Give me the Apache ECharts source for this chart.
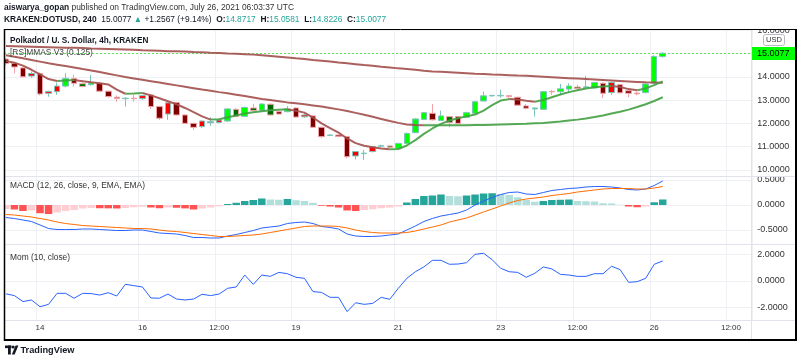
<!DOCTYPE html>
<html>
<head>
<meta charset="utf-8">
<title>DOTUSD 4h</title>
<script src="https://cdn.jsdelivr.net/npm/echarts@6/dist/echarts.min.js"></script>
<style>
html,body{margin:0;padding:0;background:#ffffff;}
#chart{width:800px;height:362px;}
</style>
</head>
<body>
<div id="chart"></div>
<script>
// ---------------- data ----------------
const barStartUTC = Date.UTC(2021, 6, 13, 8, 0);   // first visible 4h bar
const barHours = 4;
const futureBars = 10;                              // empty slots right of last bar
const tickIndex = [4, 16, 25, 34, 46, 58, 67, 76, 85];
const tickText  = ['14', '16', '12:00', '19', '21', '23', '12:00', '26', '12:00'];

const opens = [14.76,14.57,14.38,14.14,14.14,13.37,13.60,13.60,13.93,13.58,
 13.66,13.72,13.38,13.12,13.06,13.08,13.19,13.22,12.72,12.88,
 12.90,12.36,12.00,12.10,12.07,12.14,12.10,12.29,12.30,12.55,
 12.56,12.36,12.50,12.50,12.66,12.36,12.32,11.83,11.48,11.50,
 11.43,10.79,10.70,11.00,11.02,10.97,10.93,11.14,11.60,12.17,
 12.43,12.12,12.03,12.29,12.26,12.43,12.96,13.20,13.18,13.19,
 13.12,12.75,12.62,12.60,13.37,13.36,13.47,13.50,13.54,13.52,
 13.72,13.75,13.66,13.40,13.30,13.32,13.72,14.8717];
const closes = [14.57,14.42,14.00,14.03,13.26,13.29,13.36,13.93,13.72,13.70,
 13.74,13.38,13.15,13.07,13.08,13.06,13.07,12.72,12.22,12.40,
 12.36,12.00,11.83,11.86,12.03,12.04,12.62,12.60,12.68,12.66,
 12.83,12.82,12.40,12.62,12.27,12.28,11.83,11.43,11.50,11.44,
 10.57,10.60,10.72,10.79,11.04,11.03,11.14,11.57,12.19,12.46,
 12.15,12.32,12.29,12.00,12.46,12.93,13.18,13.18,13.20,13.15,
 12.78,12.65,12.66,13.36,13.35,13.48,13.60,13.56,13.57,13.75,
 13.29,13.32,13.31,13.29,13.27,13.69,14.87,15.0077];
const lows = [14.50,14.15,13.97,13.96,13.20,13.14,13.22,13.55,13.58,13.55,
 13.62,13.34,13.10,12.93,12.72,12.93,13.00,12.62,12.15,12.15,
 12.33,11.98,11.72,11.80,11.89,12.00,12.06,12.27,12.28,12.52,
 12.54,12.34,12.38,12.48,12.24,12.24,11.80,11.38,11.45,11.40,
 10.50,10.45,10.43,10.75,10.98,10.95,10.90,11.12,11.58,12.14,
 12.12,12.10,11.83,11.97,12.24,12.40,12.94,13.15,13.10,13.05,
 12.75,12.60,12.29,12.58,13.22,13.22,13.30,13.40,13.50,13.50,
 13.08,13.22,13.28,13.12,13.20,13.28,13.70,14.8226];
const highs = [14.82,14.60,14.42,14.22,14.18,13.40,13.75,14.15,14.08,13.74,
 14.08,13.75,13.40,13.20,13.12,13.22,13.22,13.25,12.75,12.90,
 12.92,12.38,12.02,12.12,12.26,12.18,12.65,12.66,12.72,12.84,
 12.86,12.86,12.54,12.74,12.68,12.40,12.34,11.86,11.52,11.52,
 11.46,10.80,10.86,11.02,11.08,11.06,11.16,11.60,12.22,12.49,
 12.83,12.55,12.31,12.31,12.50,12.96,13.36,13.22,13.44,13.20,
 13.14,12.83,12.68,13.38,13.44,13.69,13.72,13.65,14.03,13.78,
 13.75,13.78,13.69,13.42,13.36,13.72,14.92,15.0581];

// [RS]MMAS V3 moving averages (slow, medium, fast)
const maSlow = [15.32,15.31,15.30,15.29,15.28,15.27,15.26,15.25,15.24,15.23,
 15.21,15.20,15.19,15.18,15.17,15.16,15.14,15.13,15.12,15.10,
 15.09,15.08,15.06,15.05,15.03,15.02,15.00,14.99,14.97,14.95,
 14.92,14.89,14.86,14.83,14.79,14.76,14.72,14.69,14.65,14.61,
 14.58,14.54,14.50,14.47,14.43,14.40,14.36,14.33,14.30,14.26,
 14.23,14.21,14.19,14.17,14.15,14.13,14.12,14.10,14.09,14.07,
 14.05,14.04,14.02,14.00,13.98,13.96,13.94,13.92,13.90,13.88,
 13.86,13.84,13.82,13.80,13.78,13.76,13.75,13.74];
const maMid = [14.92,14.86,14.79,14.72,14.65,14.58,14.52,14.46,14.40,14.33,
 14.27,14.20,14.13,14.06,13.99,13.93,13.87,13.81,13.75,13.69,
 13.63,13.57,13.51,13.45,13.40,13.34,13.29,13.23,13.17,13.11,
 13.05,13.00,12.95,12.90,12.86,12.82,12.77,12.72,12.66,12.60,
 12.53,12.45,12.37,12.28,12.19,12.10,12.02,11.95,11.93,11.92,
 11.92,11.92,11.92,11.92,11.92,11.93,11.93,11.94,11.95,11.96,
 11.97,11.98,12.00,12.02,12.05,12.08,12.12,12.16,12.21,12.27,
 12.34,12.42,12.50,12.59,12.70,12.82,12.96,13.12];
const maFast = [14.68,14.60,14.48,14.30,14.10,13.90,13.82,13.84,13.86,13.81,
 13.76,13.72,13.67,13.45,13.27,13.28,13.30,13.20,13.08,12.95,
 12.82,12.66,12.48,12.30,12.16,12.18,12.26,12.34,12.42,12.48,
 12.52,12.56,12.58,12.60,12.54,12.46,12.25,12.00,11.80,11.60,
 11.35,11.15,11.04,10.97,10.92,10.89,10.90,11.05,11.28,11.55,
 11.78,11.98,12.12,12.22,12.30,12.38,12.55,12.78,12.98,13.04,
 13.02,12.97,12.93,13.00,13.12,13.24,13.34,13.42,13.50,13.55,
 13.58,13.60,13.56,13.47,13.42,13.50,13.64,13.80];

// MACD (12, 26, close, 9)
const macdHist = [-0.08,-0.09,-0.12,-0.11,-0.165,-0.18,-0.15,-0.12,-0.10,-0.07,
 -0.06,-0.065,-0.067,-0.07,-0.06,-0.045,-0.035,-0.05,-0.065,-0.05,
 -0.055,-0.068,-0.09,-0.07,-0.05,-0.025,0.02,0.045,0.08,0.10,
 0.13,0.11,0.105,0.12,0.095,0.08,0.045,-0.015,-0.03,-0.05,
 -0.11,-0.12,-0.10,-0.085,-0.065,-0.05,-0.03,0.05,0.12,0.18,
 0.19,0.21,0.18,0.175,0.19,0.21,0.23,0.235,0.22,0.20,
 0.155,0.10,0.065,0.08,0.10,0.105,0.11,0.08,0.075,0.07,
 0.035,0.03,0.005,-0.03,-0.045,-0.03,0.055,0.11];
const macdLine = [-0.25,-0.27,-0.30,-0.33,-0.40,-0.47,-0.49,-0.49,-0.49,-0.48,
 -0.48,-0.49,-0.50,-0.51,-0.51,-0.50,-0.50,-0.53,-0.56,-0.57,
 -0.58,-0.61,-0.65,-0.65,-0.66,-0.66,-0.62,-0.59,-0.55,-0.51,
 -0.46,-0.44,-0.42,-0.37,-0.35,-0.34,-0.37,-0.43,-0.45,-0.48,
 -0.58,-0.62,-0.63,-0.63,-0.62,-0.60,-0.58,-0.50,-0.42,-0.33,
 -0.27,-0.22,-0.19,-0.16,-0.10,0.00,0.08,0.15,0.21,0.25,
 0.26,0.22,0.21,0.25,0.29,0.31,0.33,0.34,0.36,0.37,
 0.37,0.36,0.34,0.31,0.30,0.32,0.39,0.48];
const signalLine = [-0.19,-0.20,-0.22,-0.24,-0.27,-0.30,-0.34,-0.37,-0.39,-0.41,
 -0.42,-0.43,-0.44,-0.45,-0.46,-0.47,-0.47,-0.48,-0.50,-0.52,
 -0.53,-0.55,-0.57,-0.59,-0.61,-0.63,-0.63,-0.62,-0.61,-0.60,
 -0.58,-0.55,-0.52,-0.49,-0.46,-0.43,-0.42,-0.42,-0.42,-0.43,
 -0.46,-0.50,-0.53,-0.55,-0.56,-0.56,-0.56,-0.55,-0.52,-0.48,
 -0.44,-0.40,-0.34,-0.30,-0.26,-0.20,-0.14,-0.08,-0.02,0.04,
 0.09,0.12,0.14,0.16,0.19,0.21,0.23,0.26,0.28,0.30,
 0.32,0.33,0.33,0.33,0.32,0.32,0.34,0.37];

// Mom (10, close)
const momentum = [-0.97,-1.10,-1.55,-1.43,-1.94,-1.76,-0.93,-0.93,-1.30,-0.93,
 -0.95,-1.06,-0.88,-1.13,-0.25,-0.35,-0.45,-1.28,-1.30,-0.98,
 -1.36,-1.43,-1.36,-1.00,-1.10,-0.98,-0.55,-0.45,0.45,-0.25,
 0.45,0.35,0.65,0.55,0.28,0.20,-0.80,-0.86,-1.23,-1.23,
 -2.31,-1.64,-1.76,-1.69,-1.23,-1.38,-0.55,0.20,0.70,1.06,
 1.56,1.56,1.26,1.28,1.38,2.01,2.09,1.61,0.96,0.70,
 0.65,0.28,0.58,1.06,0.91,0.50,0.45,0.35,0.35,0.55,
 0.55,1.11,0.86,-0.10,-0.05,0.20,1.26,1.51];

const lastPrice = 15.0077;

// ---------------- chart ----------------
const FONT = '"Liberation Sans", Arial, sans-serif';
const COL = {
  upBright: '#00ff00', upDark: '#006b00', dnBright: '#ff0000', dnDark: '#7d0000',
  edgeUp: '#7cc4bd', edgeDn: '#f2a2a8',
  maDown: '#a24f4b', maUp: '#43a043',
  histUp: '#26a69a', histUpFade: '#b2dfdb', histDn: '#ff5252', histDnFade: '#ffcdd2',
  blue: '#2962ff', orange: '#ff6d00', grid: '#eef0f3', sep: '#e0e3eb',
  priceLine: '#5ee05e'
};

const N = opens.length + futureBars;
const categories = [];
for (let i = 0; i < N; i++) {
  const d = new Date(barStartUTC + i * barHours * 3600000);
  categories.push(d.toISOString().slice(0, 16).replace('T', ' '));
}
const tickMap = new Map(tickIndex.map((v, k) => [v, tickText[k]]));
const isTick = (idx) => tickMap.has(idx);

const candleData = opens.map((o, i) => {
  const c = closes[i];
  const pc = i ? closes[i - 1] : o;
  const up = c >= o;
  const bright = c >= pc;
  const body = up ? (bright ? COL.upBright : COL.upDark) : (bright ? COL.dnBright : COL.dnDark);
  const edge = bright ? COL.edgeUp : COL.edgeDn;
  return { value: [o, c, lows[i], highs[i]],
    itemStyle: { color: body, color0: body, borderColor: edge, borderColor0: edge, borderWidth: 1 } };
});

const histData = macdHist.map((v, i) => {
  const p = i ? macdHist[i - 1] : v;
  const col = v >= 0 ? (v >= p ? COL.histUp : COL.histUpFade) : (v < p ? COL.histDn : COL.histDnFade);
  return { value: v, itemStyle: { color: col } };
});

function maSeries(vals, name) {
  const runs = [];
  const rising = (i) => vals[i + 1] >= vals[i];
  let start = 0, cur = rising(0);
  for (let i = 1; i < vals.length - 1; i++) {
    const d = rising(i);
    if (d !== cur) { runs.push([start, i, cur]); start = i; cur = d; }
  }
  runs.push([start, vals.length - 1, cur]);
  return runs.map(([a, b, upRun], k) => ({
    name: name + k, type: 'line', xAxisIndex: 0, yAxisIndex: 0,
    data: vals.map((v, i) => (i >= a && i <= b ? v : null)),
    showSymbol: false, symbol: 'none', silent: true, z: 4,
    lineStyle: { width: 2, color: upRun ? COL.maUp : COL.maDown, opacity: 0.9 }
  }));
}

const GL = 1.63, GR = 47.7;
const grids = [
  { left: GL, right: GR, top: 29, height: 147, outerBoundsMode: 'none' },
  { left: GL, right: GR, top: 176, height: 68, outerBoundsMode: 'none' },
  { left: GL, right: GR, top: 244, height: 76, outerBoundsMode: 'none' }
];
const xAxes = [0, 1, 2].map(k => ({
  type: 'category', gridIndex: k, data: categories, boundaryGap: true,
  axisLine: { show: false }, axisTick: { show: false },
  axisPointer: { show: false },
  axisLabel: k === 2
    ? { show: true, interval: (i) => isTick(i), formatter: (v, i) => tickMap.get(i) || '',
        fontSize: 8, color: '#333', margin: 4, fontFamily: FONT }
    : { show: false },
  splitLine: { show: true, interval: (i) => isTick(i), lineStyle: { color: COL.grid, width: 1 } }
}));
function yAxis(k, min, max, step) {
  return {
    type: 'value', gridIndex: k, position: 'right', min: min, max: max,
    minInterval: step, maxInterval: step, scale: true,
    axisLine: { show: false }, axisTick: { show: false },
    splitLine: { show: true, lineStyle: { color: COL.grid, width: 1 } },
    axisLabel: { fontSize: 9, color: '#333', margin: 5, fontFamily: FONT,
      showMinLabel: false, showMaxLabel: false, formatter: (v) => v.toFixed(4) }
  };
}

const series = [
  { type: 'candlestick', name: 'DOTUSD', xAxisIndex: 0, yAxisIndex: 0, data: candleData,
    barWidth: 6, z: 3 },
  ...maSeries(maSlow, 'slow'),
  ...maSeries(maMid, 'mid'),
  ...maSeries(maFast, 'fast'),
  { type: 'bar', name: 'Histogram', xAxisIndex: 1, yAxisIndex: 1, data: histData,
    barCategoryGap: '12%', silent: true },
  { type: 'line', name: 'MACD', xAxisIndex: 1, yAxisIndex: 1, data: macdLine,
    showSymbol: false, symbol: 'none', lineStyle: { width: 1, color: COL.blue }, z: 4 },
  { type: 'line', name: 'Signal', xAxisIndex: 1, yAxisIndex: 1, data: signalLine,
    showSymbol: false, symbol: 'none', lineStyle: { width: 1, color: COL.orange }, z: 4 },
  { type: 'line', name: 'Mom', xAxisIndex: 2, yAxisIndex: 2, data: momentum,
    showSymbol: false, symbol: 'none', lineStyle: { width: 1, color: COL.blue }, z: 4 }
];

const chart = echarts.init(document.getElementById('chart'), null, { renderer: 'canvas' });
chart.setOption({
  animation: false,
  backgroundColor: '#ffffff',
  textStyle: { fontFamily: FONT },
  grid: grids,
  xAxis: xAxes,
  yAxis: [yAxis(0, 9.74, 16.05, 1), yAxis(1, -0.78, 0.58, 0.5), yAxis(2, -2.94, 2.79, 2)],
  series: series
});

// ---------------- overlay: frame, labels, header ----------------
const pY = Math.round(chart.convertToPixel({ yAxisIndex: 0 }, lastPrice)) + 0.5;
const Z = 100;
const txt = (x, y, text, extra) => Object.assign({
  type: 'text', x: x, y: y, z: Z + 2,
  style: Object.assign({ text: text, fontFamily: FONT, fontSize: 8.4, fill: '#131722',
    verticalAlign: 'middle', align: 'left' }, extra || {})
});
const G = [];
// last-price dashed line (behind the series)
G.push({ type: 'line', shape: { x1: 4, y1: pY, x2: 751, y2: pY },
  style: { stroke: COL.priceLine, lineWidth: 1, lineDash: [2, 2] }, z: 1 });
G.push({ type: 'rect', shape: { x: 0, y: 29, width: 4, height: 313 }, style: { fill: '#fff' }, z: Z });
G.push({ type: 'rect', shape: { x: 752, y: 12, width: 44, height: 17 }, style: { fill: '#fff' }, z: Z });
[176.5, 244.5, 320.5].forEach(y => G.push({ type: 'line', shape: { x1: 4, y1: y, x2: 796, y2: y },
  style: { stroke: COL.sep, lineWidth: 1 }, z: Z }));
G.push({ type: 'line', shape: { x1: 751.5, y1: 29, x2: 751.5, y2: 340 }, style: { stroke: COL.sep, lineWidth: 1 }, z: Z });
// frame
G.push({ type: 'line', shape: { x1: 4, y1: 29.5, x2: 797, y2: 29.5 }, style: { stroke: '#000', lineWidth: 1 }, z: Z + 1 });
G.push({ type: 'line', shape: { x1: 4.5, y1: 29, x2: 4.5, y2: 341 }, style: { stroke: '#000', lineWidth: 1.5 }, z: Z + 1 });
G.push({ type: 'line', shape: { x1: 796, y1: 29, x2: 796, y2: 341 }, style: { stroke: '#000', lineWidth: 2 }, z: Z + 1 });
G.push({ type: 'line', shape: { x1: 4, y1: 340, x2: 797, y2: 340 }, style: { stroke: '#000', lineWidth: 2 }, z: Z + 1 });
// last price label
G.push({ type: 'rect', shape: { x: 752, y: pY - 6.5, width: 43, height: 13 }, style: { fill: '#00ff00' }, z: Z + 1 });
G.push(txt(757, pY + 0.5, lastPrice.toFixed(4), { fontSize: 9, fill: '#000' }));
// USD box
G.push({ type: 'rect', shape: { x: 763.5, y: 34.5, width: 21, height: 11, r: 2 },
  style: { fill: '#fff', stroke: '#b8bbc4', lineWidth: 1 }, z: Z + 1 });
G.push(txt(774, 40.2, 'USD', { fontSize: 7.5, align: 'center', fill: '#333' }));
// header
G.push(txt(4, 7.5, '{b|aiswarya_gopan} published on TradingView.com, July 26, 2021 06:03:37 UTC', {
  fill: '#333', rich: { b: { fontWeight: 'bold', fontSize: 8.4, fontFamily: FONT, fill: '#131722' } } }));
G.push(txt(4, 19.3,
  '{b|KRAKEN:DOTUSD, 240}  15.0077 {g|▲} +1.2567 (+9.14%)  {b|O:}{g|14.8717}  {b|H:}{g|15.0581}  {b|L:}{g|14.8226}  {b|C:}{g|15.0077}', {
  fill: '#131722', rich: {
    b: { fontWeight: 'bold', fontSize: 8.4, fontFamily: FONT, fill: '#131722' },
    g: { fontSize: 8.4, fontFamily: FONT, fill: '#26a69a' } } }));
// pane titles
G.push(txt(10, 40.8, 'Polkadot / U. S. Dollar, 4h, KRAKEN', { fontWeight: 'bold', fontSize: 8.2 }));
G.push(txt(10, 52.7, '[RS]MMAS V3 (0.125)', { fill: '#444' }));
G.push(txt(10, 185.7, 'MACD (12, 26, close, 9, EMA, EMA)', { fill: '#333' }));
G.push(txt(10, 257.7, 'Mom (10, close)', { fill: '#333' }));
// TradingView logo
G.push({ type: 'rect', shape: { x: 5, y: 345.5, width: 6.5, height: 2.6 }, style: { fill: '#131722' }, z: Z });
G.push({ type: 'rect', shape: { x: 8, y: 345.5, width: 2.8, height: 9 }, style: { fill: '#131722' }, z: Z });
G.push({ type: 'circle', shape: { cx: 13.2, cy: 347, r: 1.5 }, style: { fill: '#131722' }, z: Z });
G.push({ type: 'polygon', shape: { points: [[11.8, 354.5], [15.6, 345.5], [18.4, 345.5], [14.6, 354.5]] }, style: { fill: '#131722' }, z: Z });
G.push(txt(20.5, 350.5, 'TradingView', { fontSize: 9.2, fontWeight: 'bold', fill: '#131722' }));

chart.setOption({ graphic: G });
</script>
</body>
</html>
